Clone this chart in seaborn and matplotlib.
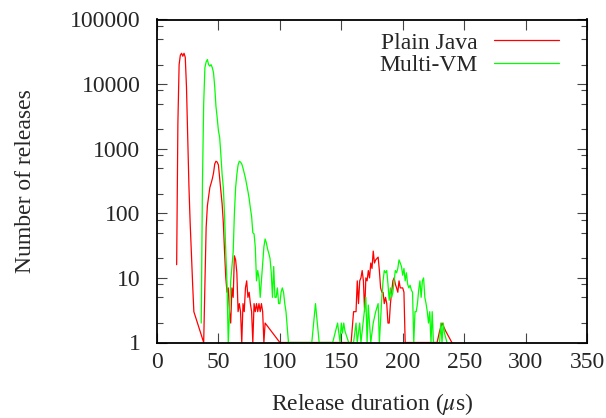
import numpy as np
import pandas as pd
import matplotlib
matplotlib.use("Agg")
import matplotlib.pyplot as plt
import seaborn as sns
from matplotlib.ticker import FixedLocator, FuncFormatter
from matplotlib.lines import Line2D

# ---- data ----
plain_x = [16, 17, 18, 19, 20, 21, 22, 23, 24, 25, 26, 27, 28, 29, 30, 38,
           39, 40, 41, 42, 43, 44, 45, 46, 47, 48, 49, 50, 51, 52, 53, 54, 55, 56, 57, 58, 59, 60,
           61, 62, 63, 64, 65, 66, 67, 68, 69, 70, 71, 72, 73, 74, 75, 76, 77, 78, 79, 80,
           81, 82, 83, 84, 85, 86, 87, 88, 100, 158,
           160, 161, 162, 163, 164, 165, 166, 167, 168, 169, 170, 171, 172, 173, 174, 175,
           176, 177, 178, 179, 180, 181, 182, 183, 184, 185, 186, 187, 188, 189, 190,
           191, 192, 193, 194, 195, 196, 197, 198, 199, 200, 201, 202,
           228, 230, 232, 235, 240]
plain_n = [16, 2500, 20000, 28000, 30000, 27000, 30000, 26000, 9000, 1500, 260, 70, 24, 8, 3, 1,
           8, 60, 130, 180, 250, 290, 340, 420, 580, 640, 620, 560, 350, 220, 140, 70, 25, 10, 6, 7, 3, 2,
           7, 5, 22, 19, 12, 3, 4, 3, 1, 4, 3, 7, 9, 5, 6, 4, 3, 1, 4, 3,
           4, 3, 4, 3, 4, 3, 1, 2, 1, 1,
           3, 3, 3, 9, 4, 9, 10, 13, 9, 3, 10, 9, 13, 10, 17, 14,
           26, 17, 19, 20, 21, 13, 7, 6, 6, 4, 5, 4, 2, 2, 4,
           6, 9, 10, 8, 7, 6, 9, 7, 7, 7, 6, 1,
           1, 1.5, 2, 1.5, 1]

multi_x = [36, 37, 38, 39, 40, 41, 42, 43, 44, 45, 46, 47, 48, 49, 50, 51, 52, 53, 54, 55, 56, 57, 58,
           59, 60, 61, 62, 63, 64, 65, 66, 67, 68, 69, 70, 71, 72, 73, 74, 75, 76, 77, 78, 79, 80,
           81, 82, 83, 84, 85, 86, 87, 88, 89, 90, 91, 92, 93, 94, 95, 96, 97, 98, 99, 100,
           101, 102, 103, 104, 105, 107,
           126, 129, 132, 143, 147, 149, 150, 151, 152, 153, 156, 160, 162, 163, 165, 166,
           168, 170, 171, 172, 173, 174, 176, 178, 180, 181, 183, 184, 185, 186, 187, 188,
           189, 190, 191, 192, 193, 194, 195, 196, 197, 198, 199, 200, 201, 202, 203, 204,
           205, 206, 207, 208, 209, 210, 211, 212, 213, 214, 215, 216, 217, 218, 219, 220,
           221, 222, 223, 224, 225, 230, 231, 232, 233, 234, 236]
multi_n = [2, 300, 5000, 18000, 22000, 24000, 20000, 19000, 20000, 18000, 15000, 9000, 4500, 3000,
           1900, 1500, 800, 400, 250, 90, 25, 8, 1,
           3, 9, 15, 25, 100, 250, 400, 560, 640, 620, 580, 500, 420, 350, 280, 220, 170, 120, 90,
           50, 48, 30,
           9, 13, 10, 5, 9, 17, 30, 40, 35, 28, 24, 20, 12, 5, 15, 5, 5, 7, 4, 4,
           6, 7, 6, 4, 3, 1,
           1, 4, 1, 1, 2, 1, 2, 1.4, 2, 1.5, 1, 1, 2, 1, 2, 1,
           2.2, 5, 1, 3.8, 2, 1, 2, 3, 4, 1, 5, 9, 13, 12, 13, 8,
           4.5, 7, 5, 6, 9, 13, 12, 14, 19, 17, 15, 11, 14, 9, 12, 8,
           7, 7.7, 6.5, 6, 1, 3, 3, 4, 6.5, 9, 5, 9, 10, 5, 4, 3,
           2, 3, 1, 3, 1, 1, 2, 1, 2, 1.4, 1]

series_names = ["Plain Java", "Multi-VM"]
series_colors = ["#ff0000", "#00ff00"]
x_ticks = [0, 50, 100, 150, 200, 250, 300, 350]
y_ticks = [1, 10, 100, 1000, 10000, 100000]

df = pd.concat([
    pd.DataFrame({"x": plain_x, "n": plain_n, "series": series_names[0]}),
    pd.DataFrame({"x": multi_x, "n": multi_n, "series": series_names[1]}),
], ignore_index=True)

# ---- style ----
sns.set_style("ticks")
plt.rcParams["font.family"] = ["Liberation Serif", "DejaVu Serif"]
plt.rcParams["mathtext.fontset"] = "stix"

fig = plt.figure(figsize=(6.06, 4.18), dpi=100)
ax = fig.add_axes([157 / 606, 1 - 342.5 / 418, (587 - 157) / 606, (342.5 - 19.5) / 418])

sns.lineplot(data=df, x="x", y="n", hue="series", hue_order=series_names,
             palette=dict(zip(series_names, series_colors)),
             estimator=None, sort=False, linewidth=0.9, ax=ax, legend=False, zorder=1)

ax.set_yscale("log")
ax.set_xlim(0, 350)
ax.set_ylim(1, 100000)

fs = 17
ax.xaxis.set_major_locator(FixedLocator(x_ticks))
ax.yaxis.set_major_locator(FixedLocator(y_ticks))
minor = [m * 10 ** e for e in range(0, 5) for m in (2, 5, 8)]
ax.yaxis.set_minor_locator(FixedLocator(minor))
ax.yaxis.set_major_formatter(FuncFormatter(lambda v, p: f"{int(round(v))}"))
ax.yaxis.set_minor_formatter(FuncFormatter(lambda v, p: ""))
ax.xaxis.set_major_formatter(FuncFormatter(lambda v, p: f"{int(round(v))}"))

ax.tick_params(axis="both", which="major", direction="in", length=7, width=0.8,
               top=True, right=True, labelsize=fs, color="#444444")
ax.tick_params(axis="y", which="major", pad=12)
ax.tick_params(axis="x", which="major", pad=7)
ax.tick_params(axis="y", which="minor", direction="in", length=4, width=0.8,
               right=True, color="#444444")
for s in ax.spines.values():
    s.set_visible(True)
    s.set_linewidth(1.3)
    s.set_color("black")
    s.set_zorder(3)

ax.set_xlabel(r"Release duration ($\mu$s)", fontsize=fs, labelpad=13)
ax.set_ylabel("Number of releases", fontsize=fs, labelpad=24)

handles = [Line2D([], [], color=c, lw=0.9) for c in series_colors]
ax.legend(handles, series_names, loc="upper right", frameon=False, markerfirst=False,
          fontsize=fs, handlelength=2.75, handletextpad=0.72, labelspacing=0.05,
          bbox_to_anchor=(0.968, 1.005), borderaxespad=0.2)

fig.savefig("out.png", dpi=100)
